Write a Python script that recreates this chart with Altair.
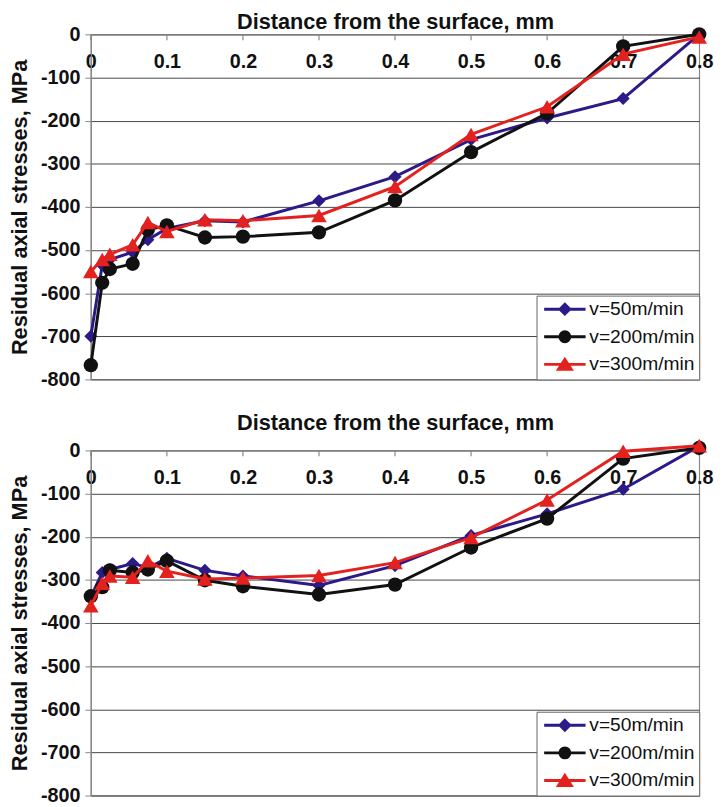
import altair as alt
import pandas as pd

# ---------------- data ----------------
x_mm = [0, 0.015, 0.025, 0.055, 0.075, 0.1, 0.15, 0.2, 0.3, 0.4, 0.5, 0.6, 0.7, 0.8]
series_names = ["v=50m/min", "v=200m/min", "v=300m/min"]
series_colors = ["#2B1A87", "#111111", "#E3211F"]
series_shapes = ["diamond", "circle", "triangle-up"]
series_sizes = [175, 210, 250]

top_v50 = [-700, -535, -522, -505, -476, -450, -432, -435, -386, -330, -244, -194, -149, 0]
top_v200 = [-767, -576, -544, -532, -453, -443, -471, -469, -459, -385, -273, -183, -28, 0]
top_v300 = [-550, -522, -510, -488, -436, -457, -430, -432, -420, -353, -232, -168, -46, -6]

bot_v50 = [-340, -283, -276, -262, -272, -250, -278, -291, -313, -267, -197, -147, -90, 10]
bot_v200 = [-338, -317, -278, -283, -276, -256, -301, -315, -334, -311, -225, -158, -19, 6]
bot_v300 = [-360, -308, -291, -294, -256, -280, -298, -296, -290, -260, -202, -115, -2, 11]

x_ticks = [0, 0.1, 0.2, 0.3, 0.4, 0.5, 0.6, 0.7, 0.8]
y_ticks = [-800, -700, -600, -500, -400, -300, -200, -100, 0]

x_title = "Distance from the surface, mm"
y_title = "Residual axial stresses, MPa"

FONT = "Liberation Sans"

# legend symbols: a line with the marker on it
legend_paths = [
    "M-3,0L3,0M0,-0.7L0.7,0L0,0.7L-0.7,0Z",
    "M-3,0L3,0M0.72,0A0.72,0.72 0 1,1 -0.72,0A0.72,0.72 0 1,1 0.72,0Z",
    "M-3,0L3,0M0,-0.72L0.92,0.72L-0.92,0.72Z",
]


def panel(values, title_pad):
    rows = []
    for name, vals in zip(series_names, values):
        for xx, yy in zip(x_mm, vals):
            rows.append({"x": xx, "y": yy, "series": name})
    df = pd.DataFrame(rows)
    ticks_df = pd.DataFrame({"x": x_ticks})

    xenc = alt.X(
        "x:Q",
        scale=alt.Scale(domain=[0, 0.8], nice=False, zero=False),
        axis=alt.Axis(
            orient="top",
            values=x_ticks,
            format="~g",
            title=x_title,
            titleFont=FONT,
            titleFontSize=22,
            titleFontWeight="bold",
            titleColor="#111",
            titlePadding=title_pad,
            ticks=False,
            tickSize=0,
            labelPadding=-34,
            labelBaseline="alphabetic",
            labelFlush=False,
            labelOverlap=False,
            labelBound=False,
            labelFont=FONT,
            labelFontSize=20,
            labelFontWeight="bold",
            labelColor="#111",
            domainColor="#888",
            domainWidth=1.2,
            grid=False,
        ),
    )
    yenc = alt.Y(
        "y:Q",
        scale=alt.Scale(domain=[-800, 0], nice=False, zero=False),
        axis=alt.Axis(
            values=y_ticks,
            format="d",
            labelExpr="replace(datum.label, '\u2212', '-')",
            title=y_title,
            titleFont=FONT,
            titleFontSize=22,
            titleFontWeight="bold",
            titleColor="#111",
            titlePadding=9,
            tickSize=6,
            tickColor="#888",
            labelPadding=5,
            labelFont=FONT,
            labelFontSize=20,
            labelFontWeight="bold",
            labelColor="#111",
            domainColor="#888",
            domainWidth=1.2,
            grid=True,
            gridColor="#444",
            gridWidth=1,
        ),
    )

    layers = []
    tick_layer = alt.Chart(ticks_df).mark_rule(color="#888", strokeWidth=1.2).encode(
        x=xenc, y=alt.value(0), y2=alt.value(6)
    )
    layers.append(tick_layer)
    for name, col, shp, sz in zip(series_names, series_colors, series_shapes, series_sizes):
        sub = alt.Chart(df).transform_filter(alt.datum.series == name)
        layers.append(sub.mark_line(color=col, strokeWidth=3).encode(x=xenc, y=yenc))
        layers.append(
            sub.mark_point(shape=shp, filled=True, size=sz, color=col, opacity=1).encode(
                x=xenc, y=yenc
            )
        )

    leg = alt.Legend(
        title=None,
        orient="bottom-right",
        offset=0,
        padding=4,
        strokeColor="#666",
        fillColor="white",
        labelFont=FONT,
        labelFontSize=19.5,
        labelColor="#111",
        symbolSize=196,
        symbolStrokeWidth=3,
        symbolOffset=15,
        labelOffset=15,
        rowPadding=5,
    )
    legend_layer = (
        alt.Chart(df)
        .transform_filter(alt.datum.y > 1000)
        .mark_point(filled=True, size=196, strokeWidth=3, opacity=1)
        .encode(
            x=xenc,
            y=yenc,
            fill=alt.Fill("series:N", scale=alt.Scale(domain=series_names, range=series_colors), legend=leg),
            stroke=alt.Stroke("series:N", scale=alt.Scale(domain=series_names, range=series_colors), legend=leg),
            shape=alt.Shape("series:N", scale=alt.Scale(domain=series_names, range=legend_paths), legend=leg),
        )
    )
    layers.append(legend_layer)
    return alt.layer(*layers).properties(width=617, height=350)


top = panel([top_v50, top_v200, top_v300], 1)
bottom = panel([bot_v50, bot_v200, bot_v300], 16)

chart = (
    alt.vconcat(top, bottom, spacing=21)
    .resolve_scale(fill="independent", stroke="independent", shape="independent")
    .resolve_legend(fill="independent", stroke="independent", shape="independent")
    .properties(padding={"left": 0, "top": -4, "right": 0, "bottom": 0})
    .configure_view(stroke="#888", strokeWidth=1.2)
)

chart.save("out.html", embed_options={"renderer": "svg", "actions": False})
